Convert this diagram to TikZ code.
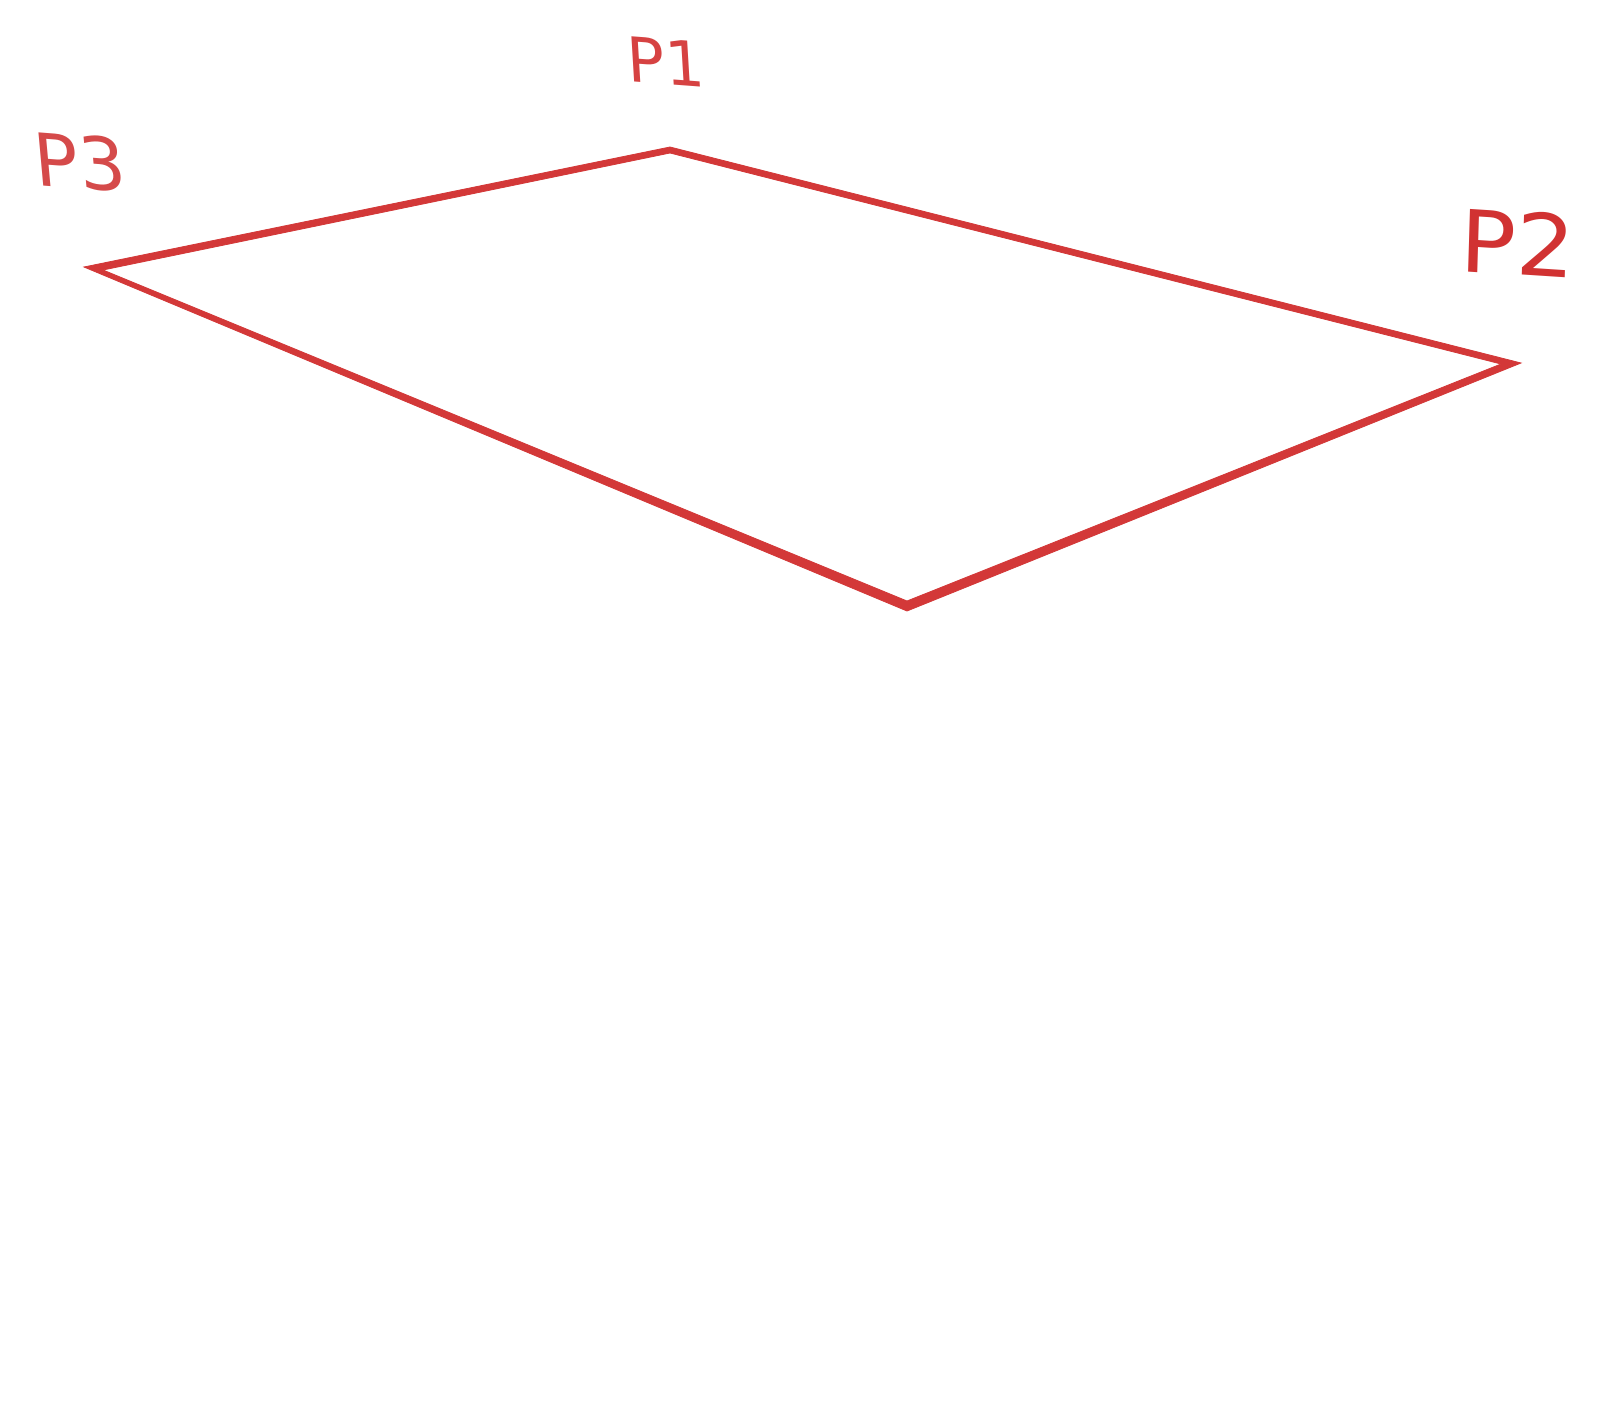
\documentclass[tikz,border=0pt]{standalone}
\usepackage{fontspec}
\newfontfamily\lblfont{DejaVu Sans}
\definecolor{slabred}{RGB}{211,56,56}
\definecolor{lblA}{RGB}{214,66,66}
\definecolor{lblB}{RGB}{213,74,74}
\definecolor{lblC}{RGB}{209,50,50}
\tikzset{
  lbl/.style={inner sep=0pt, font=\lblfont, transform shape},
  slab/.style={fill=slabred, draw=slabred, line width=0.8pt, line join=miter, even odd rule}
}
\begin{document}
\begin{tikzpicture}[x=1pt,y=-1pt]
\useasboundingbox (0,0) rectangle (1600,1400);
\fill[white] (0,0) rectangle (1600,1400);
% outer corners
\coordinate (L) at (84,267);
\coordinate (T) at (670,147);
\coordinate (R) at (1521,363);
\coordinate (B) at (907,611);
% inner corners
\coordinate (Li) at (103,270);
\coordinate (Ti) at (670,153);
\coordinate (Ri) at (1501,364);
\coordinate (Bi) at (907,601);
\path[slab] (L) -- (T) -- (R) -- (B) -- cycle
            (Li) -- (Ti) -- (Ri) -- (Bi) -- cycle;
% labels
\begin{scope}[shift={(666,62)}, xslant=-0.06, yslant=-0.075]
  \node[lbl, text=lblA, font=\lblfont\fontsize{62}{62}\selectfont] (p1) at (0,0) {P1};
\end{scope}
\begin{scope}[shift={(80,162)}, xslant=-0.09, yslant=-0.077]
  \node[lbl, text=lblB, font=\lblfont\fontsize{73}{73}\selectfont] (p3) at (0,0) {P3};
\end{scope}
\begin{scope}[shift={(1518,243)}, xslant=0.03, yslant=-0.065, xscale=1.08]
  \node[lbl, text=lblC, font=\lblfont\fontsize{86}{86}\selectfont] (p2) at (0,0) {P2};
\end{scope}
\end{tikzpicture}
\end{document}
